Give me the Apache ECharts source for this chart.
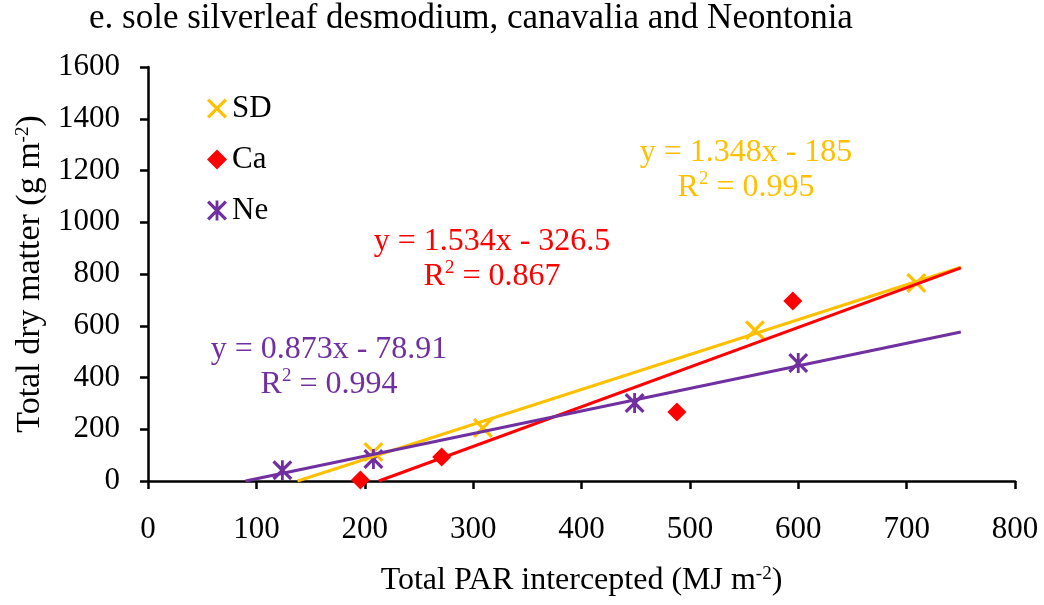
<!DOCTYPE html>
<html><head><meta charset="utf-8">
<script src="https://cdn.jsdelivr.net/npm/echarts@6/dist/echarts.min.js"></script>
<style>html,body{margin:0;padding:0;background:#fff}#c{width:1044px;height:605px}</style>
</head><body><div id="c"></div>
<script>
// ---- data ----
const chartTitle = 'e. sole silverleaf desmodium, canavalia and Neontonia';
const seriesNames = ['SD', 'Ca', 'Ne'];
const sdPoints = [[208, 112], [309, 205], [560, 583], [709, 765]];
const caPoints = [[196, 4], [271, 93], [488, 267], [595, 696]];
const nePoints = [[124, 42], [208, 85], [449, 301], [600, 456]];
const sdTrend = [[138, 0], [750, 826]];
const caTrend = [[213, 0], [750, 824]];
const neTrend = [[90, 0], [750, 576]];
const sdEquation = ['y = 1.348x - 185', '0.995'];
const caEquation = ['y = 1.534x - 326.5', '0.867'];
const neEquation = ['y = 0.873x - 78.91', '0.994'];
const xRange = [0, 800, 100];
const yRange = [0, 1600, 200];
const xName = 'Total PAR intercepted (MJ m{sup|-2})';
const yName = 'Total dry matter (g m{sup|-2})';

// ---- style ----
const FONT = 'Liberation Serif';
const C_SD = '#FFC000', C_CA = '#FF0000', C_NE = '#7030A0';
const X_PATH = 'path://M0,2.3 L2.3,0 L10,7.7 L17.7,0 L20,2.3 L12.3,10 L20,17.7 L17.7,20 L10,12.3 L2.3,20 L0,17.7 L7.7,10 Z';
const NE_PATH = 'path://M0,2.3 L2.3,0 L10,7.7 L17.7,0 L20,2.3 L12.3,10 L20,17.7 L17.7,20 L10,12.3 L2.3,20 L0,17.7 L7.7,10 Z M8.6,0 L11.4,0 L11.4,20 L8.6,20 Z';

const supStyle = { fontSize: 19, verticalAlign: 'top', lineHeight: 18, fontFamily: FONT };

function eqText(eq) { return eq[0] + '\nR{sup|2} = ' + eq[1]; }
function eqGraphic(eq, x, y, color) {
  return {
    type: 'text', x: x, y: y, z: 100,
    style: {
      text: eqText(eq), fill: color, fontSize: 32, fontFamily: FONT, lineHeight: 35,
      align: 'center', verticalAlign: 'middle',
      rich: { sup: Object.assign({ fill: color }, supStyle) }
    }
  };
}

function axisCommon(range) {
  return {
    type: 'value', min: range[0], max: range[1], interval: range[2],
    axisLine: { show: true, onZero: false, lineStyle: { color: '#000', width: 2.5 } },
    axisTick: { show: true, inside: false, length: 8, lineStyle: { color: '#000', width: 2.5 } },
    splitLine: { show: false },
    axisLabel: { color: '#000', fontSize: 31, fontFamily: FONT, formatter: function (v) { return String(v); } },
    nameLocation: 'middle',
    nameTextStyle: { color: '#000', fontSize: 32, fontFamily: FONT, rich: { sup: Object.assign({ color: '#000' }, supStyle) } }
  };
}

const xAxis = axisCommon(xRange);
xAxis.name = xName; xAxis.nameGap = 84; xAxis.axisLabel.margin = 33;
const yAxis = axisCommon(yRange);
yAxis.name = yName; yAxis.nameGap = 99; yAxis.nameRotate = 90; yAxis.axisLabel.margin = 28;
yAxis.nameTextStyle.fontSize = 34;

const chart = echarts.init(document.getElementById('c'), null, { renderer: 'canvas' });
chart.setOption({
  animation: false,
  backgroundColor: '#fff',
  textStyle: { fontFamily: FONT },
  title: { text: chartTitle, left: 89, top: 1, padding: 0,
    textStyle: { fontSize: 35, fontWeight: 'normal', color: '#000', fontFamily: FONT } },
  grid: { left: 148, right: 29, top: 67, bottom: 124 },
  legend: {
    orient: 'vertical', left: 202, top: 88, itemWidth: 20, itemHeight: 20, itemGap: 20,
    data: [
      { name: seriesNames[0], icon: X_PATH },
      { name: seriesNames[1], icon: 'diamond' },
      { name: seriesNames[2], icon: NE_PATH }
    ],
    textStyle: { fontSize: 31, color: '#000', fontFamily: FONT }
  },
  xAxis: xAxis,
  yAxis: yAxis,
  series: [
    { name: seriesNames[0], type: 'scatter', data: sdPoints, symbol: X_PATH, symbolSize: 20, itemStyle: { color: C_SD, opacity: 1 } },
    { name: 'SD trend', type: 'line', data: sdTrend, showSymbol: false, symbol: 'none', lineStyle: { color: C_SD, width: 3 }, itemStyle: { color: C_SD } },
    { name: seriesNames[1], type: 'scatter', data: caPoints, symbol: 'diamond', symbolSize: 19, itemStyle: { color: C_CA, opacity: 1 } },
    { name: 'Ca trend', type: 'line', data: caTrend, showSymbol: false, symbol: 'none', lineStyle: { color: C_CA, width: 3 }, itemStyle: { color: C_CA } },
    { name: seriesNames[2], type: 'scatter', data: nePoints, symbol: NE_PATH, symbolSize: 20, itemStyle: { color: C_NE, opacity: 1 } },
    { name: 'Ne trend', type: 'line', data: neTrend, showSymbol: false, symbol: 'none', lineStyle: { color: C_NE, width: 3 }, itemStyle: { color: C_NE } }
  ],
  graphic: [
    eqGraphic(sdEquation, 746, 170, C_SD),
    eqGraphic(caEquation, 492, 259, C_CA),
    eqGraphic(neEquation, 329, 367, C_NE)
  ]
});
</script></body></html>
